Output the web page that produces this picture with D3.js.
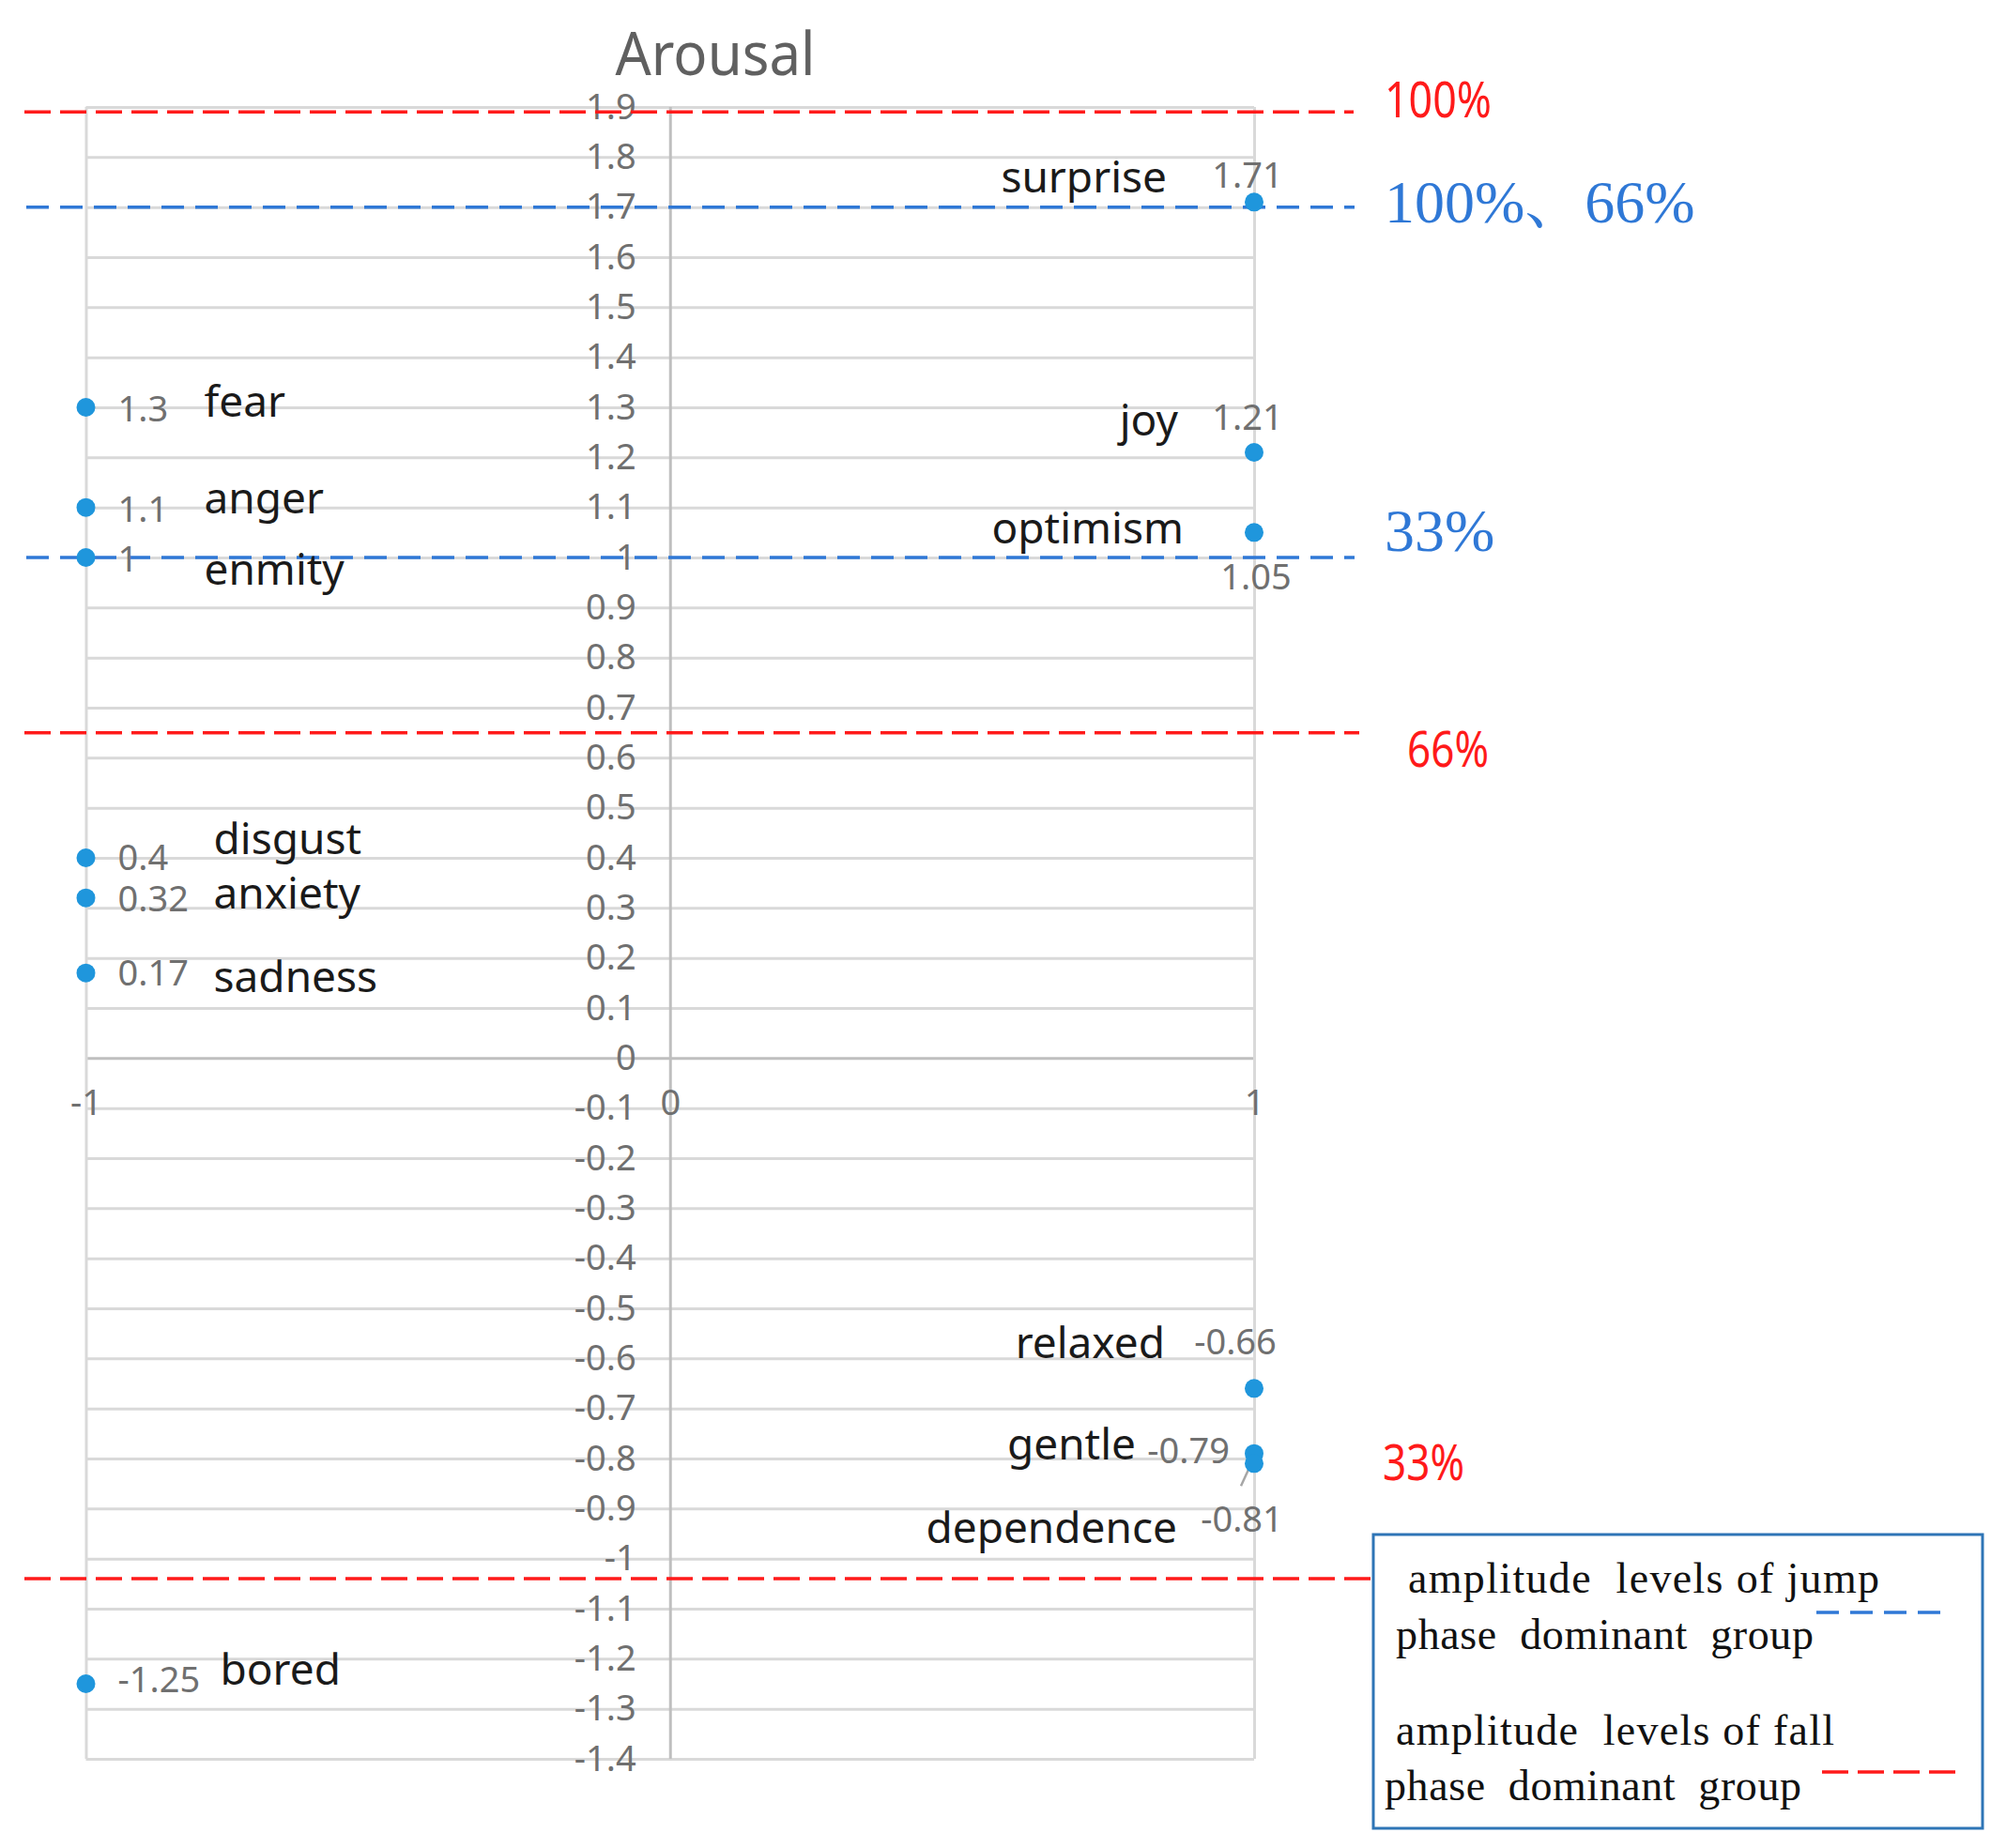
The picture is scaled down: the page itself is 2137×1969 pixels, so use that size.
<html>
<script src="https://d3js.org/d3.v7.min.js"></script>
<body style="margin:0;background:#fff">
<svg width=2137 height=1969></svg>
<script>
// emotion words placed on valence (-1 / 1) and arousal
const emotions = ["fear", "anger", "enmity", "disgust", "anxiety", "sadness", "bored",
                  "surprise", "joy", "optimism", "relaxed", "gentle", "dependence"];
const valence  = [-1, -1, -1, -1, -1, -1, -1, 1, 1, 1, 1, 1, 1];
const arousal  = [1.3, 1.1, 1, 0.4, 0.32, 0.17, -1.25, 1.71, 1.21, 1.05, -0.66, -0.79, -0.81];

const yTicks = d3.range(-14, 20).map(d => d / 10);
const xTicks = [-1, 0, 1];

// amplitude levels
const jumpLevels = [1.7, 1.0];
const jumpLabels = ["100%、66%", "33%"];
const fallLevels = [1.89, 0.65, -1.04];
const fallLabels = ["100%", "66%", "33%"];
const legendLines = [["amplitude  levels of jump", "phase  dominant  group"],
                     ["amplitude  levels of fall", "phase  dominant  group"]];

// label offsets from each point: [name dx, name dy, value dx, value dy, anchor]
const layout = [
  [126, 10, 34, 15, "start"], [126, 6, 34, 15, "start"], [126, 29, 34, 15, "start"],
  [136, -4, 34, 13, "start"], [136, 11, 34, 14, "start"], [136, 20, 34, 13, "start"],
  [143, 1, 34, 9, "start"],
  [-93, -10, -7, -15, "end"], [-81, -18, -7, -24, "end"], [-75, 12, 2, 61, "end"],
  [-95, -32, -20, -36, "end"], [-126, 6, -26, 10, "end"], [-82, 85, -13, 73, "end"]
];

const svg = d3.select("svg");
const x = d3.scaleLinear().domain([-1, 1]).range([91.5, 1336]);
const y = d3.scaleLinear().domain([-1.4, 1.9]).range([1874, 114]);
const fmt = d => String(+d.toFixed(1));
const sans = "'Noto Sans', 'Open Sans', sans-serif";
const serif = "'Liberation Serif', 'Noto Serif CJK SC', 'Noto Sans CJK SC', serif";
const grey = "#707070";

// horizontal grid
const gridY = svg.append("g").attr("transform", `translate(${x(-1)},0)`)
  .call(d3.axisLeft(y).tickValues(yTicks).tickSize(-(x(1) - x(-1))).tickFormat(""));
gridY.select(".domain").remove();
gridY.selectAll("line").attr("stroke", d => d === 0 ? "#bfbfbf" : "#d9d9d9").attr("stroke-width", 3);

// vertical grid
const gridX = svg.append("g").attr("transform", `translate(0,${y(-1.4)})`)
  .call(d3.axisBottom(x).tickValues(xTicks).tickSize(-(y(-1.4) - y(1.9))).tickFormat(""));
gridX.select(".domain").remove();
gridX.selectAll("line").attr("stroke", d => d === 0 ? "#bfbfbf" : "#d9d9d9").attr("stroke-width", 3);

// y labels next to the vertical axis
const yAxis = svg.append("g").attr("transform", `translate(${x(0)},0)`)
  .call(d3.axisLeft(y).tickValues(yTicks).tickSize(0).tickPadding(36).tickFormat(fmt));
yAxis.select(".domain").remove();
yAxis.selectAll("text").attr("font-family", sans).attr("font-size", 38).attr("fill", grey);

const xAxis = svg.append("g").attr("transform", `translate(0,${y(0)})`)
  .call(d3.axisBottom(x).tickValues(xTicks).tickSize(0).tickPadding(34).tickFormat(fmt));
xAxis.select(".domain").remove();
xAxis.selectAll("text").attr("font-family", sans).attr("font-size", 38).attr("fill", grey);

svg.append("text").attr("x", 762).attr("y", 80).attr("text-anchor", "middle")
  .attr("textLength", 213).attr("lengthAdjust", "spacingAndGlyphs")
  .attr("font-family", sans).attr("font-size", 64).attr("fill", "#606060").text("Arousal");

// dashed level lines
const red = "#ff1a1a", blue = "#2f78d6";
const fallX2 = [1442, 1448, 1462];
svg.selectAll(".fall").data(fallLevels).join("line")
  .attr("x1", 26).attr("x2", (d, i) => fallX2[i]).attr("y1", d => y(d)).attr("y2", d => y(d))
  .attr("stroke", red).attr("stroke-width", 3.5).attr("stroke-dasharray", "28 10");
svg.selectAll(".jump").data(jumpLevels).join("line")
  .attr("x1", 28).attr("x2", 1443).attr("y1", d => y(d)).attr("y2", d => y(d))
  .attr("stroke", blue).attr("stroke-width", 3.5).attr("stroke-dasharray", "24 12");

const fallPos = [[1475, 6, 114], [1499, 36, 87], [1473, -105, 87]];
svg.selectAll(".fallLab").data(fallLabels).join("text")
  .attr("x", (d, i) => fallPos[i][0]).attr("y", (d, i) => y(fallLevels[i]) + fallPos[i][1])
  .attr("textLength", (d, i) => fallPos[i][2]).attr("lengthAdjust", "spacingAndGlyphs")
  .attr("font-family", sans).attr("font-size", 52).attr("fill", red).text(d => d);
const jumpPos = [[1475, 16], [1475, -7]];
svg.selectAll(".jumpLab").data(jumpLabels).join("text")
  .attr("x", (d, i) => jumpPos[i][0]).attr("y", (d, i) => y(jumpLevels[i]) + jumpPos[i][1])
  .attr("font-family", serif).attr("font-size", 64).attr("fill", blue).text(d => d);

// points and labels
const pts = emotions.map((e, i) => ({ name: e, v: valence[i], a: arousal[i], l: layout[i] }));
const dep = pts.find(p => p.name === "dependence");
svg.append("line").attr("x1", x(dep.v) - 3).attr("y1", y(dep.a))
  .attr("x2", x(dep.v) - 14).attr("y2", y(dep.a) + 24)
  .attr("stroke", "#a6a6a6").attr("stroke-width", 2.5);

svg.selectAll(".pt").data(pts).join("circle")
  .attr("cx", d => x(d.v)).attr("cy", d => y(d.a)).attr("r", 10).attr("fill", "#1f96dc");

svg.selectAll(".name").data(pts).join("text")
  .attr("x", d => x(d.v) + d.l[0]).attr("y", d => y(d.a) + d.l[1])
  .attr("text-anchor", d => d.l[4]).attr("font-family", sans).attr("font-size", 46)
  .attr("fill", "#1a1a1a").text(d => d.name);

svg.selectAll(".val").data(pts).join("text")
  .attr("x", d => x(d.v) + d.l[2]).attr("y", d => y(d.a) + d.l[3])
  .attr("text-anchor", d => d.v < 0 ? "start" : (d.name === "gentle" ? "end" : "middle"))
  .attr("font-family", sans).attr("font-size", 38).attr("fill", grey).text(d => d.a);

// legend box
svg.append("rect").attr("x", 1463).attr("y", 1635).attr("width", 649).attr("height", 313)
  .attr("fill", "#fff").attr("stroke", "#2e75b6").attr("stroke-width", 3);
const legPos = [[[1500, 1697, 502], [1487, 1757, 445]], [[1487, 1859, 467], [1475, 1918, 444]]];
legendLines.forEach((lines, i) => {
  lines.forEach((t, j) => {
    svg.append("text").attr("x", legPos[i][j][0]).attr("y", legPos[i][j][1])
      .attr("textLength", legPos[i][j][2]).attr("lengthAdjust", "spacing")
      .style("white-space", "pre").attr("font-family", serif).attr("font-size", 46)
      .attr("fill", "#111").text(t);
  });
});
svg.append("line").attr("x1", 1935).attr("x2", 2078).attr("y1", 1718).attr("y2", 1718)
  .attr("stroke", blue).attr("stroke-width", 3.5).attr("stroke-dasharray", "24 12");
svg.append("line").attr("x1", 1941).attr("x2", 2086).attr("y1", 1888).attr("y2", 1888)
  .attr("stroke", red).attr("stroke-width", 3.5).attr("stroke-dasharray", "28 10");
</script>
</body>
</html>
